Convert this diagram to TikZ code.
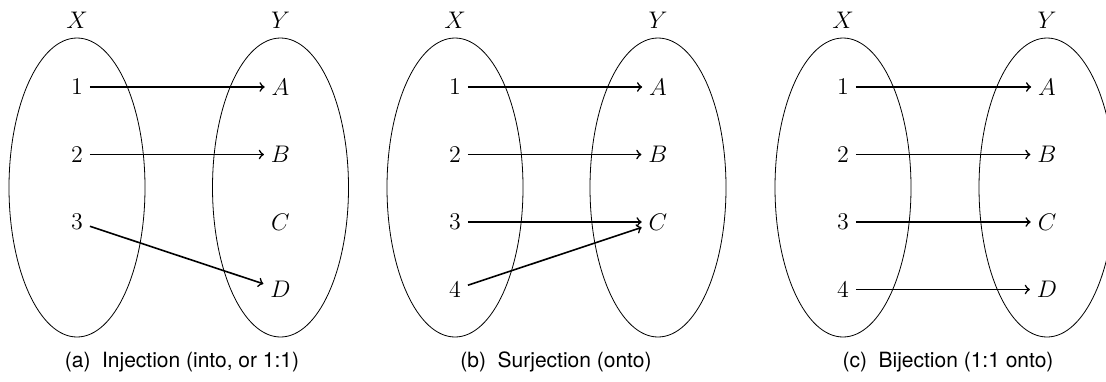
\documentclass[tikz,border=0pt]{standalone}
\usepackage{fontspec}
\setsansfont{TeX Gyre Heros}
\usetikzlibrary{positioning}

\begin{document}
\begin{tikzpicture}[x=0.5pt, y=0.5pt, font=\fontsize{12}{14}\selectfont,
  set/.style={thin},
  map/.style={->, thick},
  subcap/.style={font=\sffamily\fontsize{10.5}{12}\selectfont}]
\useasboundingbox (0,0) rectangle (1106,-381);
% domain / codomain ellipses of the three panels
\foreach \xc in {77,280.5,455,658,843,1047}
  \draw[set] (\xc,-187.5) ellipse [x radius=68, y radius=149.5];

% (a) injection
\node (aX) at (77,-20) {$X$};
\node (aY) at (280.5,-20) {$Y$};
\foreach \i/\y in {1/87,2/154.5,3/222} \node (a\i) at (77,-\y) {$\i$};
\foreach \l/\y in {A/87,B/154.5,C/222,D/289.5} \node (a\l) at (280.5,-\y) {$\l$};
\draw[map] (a1) -- (aA);
\draw[map] (a2) -- (aB);
\draw[map] (a3) -- (aD);
\node[subcap] (acap) at (182,-362) {(a)\hspace{0.55em}Injection (into, or 1:1)};

% (b) surjection
\node (bX) at (455,-20) {$X$};
\node (bY) at (658,-20) {$Y$};
\foreach \i/\y in {1/87,2/154.5,3/222,4/289.5} \node (b\i) at (455,-\y) {$\i$};
\foreach \l/\y in {A/87,B/154.5,C/222} \node (b\l) at (658,-\y) {$\l$};
\draw[map] (b1) -- (bA);
\draw[map] (b2) -- (bB);
\draw[map] (b3) -- (bC);
\draw[map] (b4) -- (bC);
\node[subcap] (bcap) at (556,-362) {(b)\hspace{0.55em}Surjection (onto)};

% (c) bijection
\node (cX) at (843,-20) {$X$};
\node (cY) at (1047,-20) {$Y$};
\foreach \i/\l/\y in {1/A/87,2/B/154.5,3/C/222,4/D/289.5}{
  \node (c\i) at (843,-\y) {$\i$};
  \node (c\l) at (1047,-\y) {$\l$};
  \draw[map] (c\i) -- (c\l);
}
\node[subcap] (ccap) at (948,-362) {(c)\hspace{0.55em}Bijection (1:1 onto)};
\end{tikzpicture}
\end{document}
